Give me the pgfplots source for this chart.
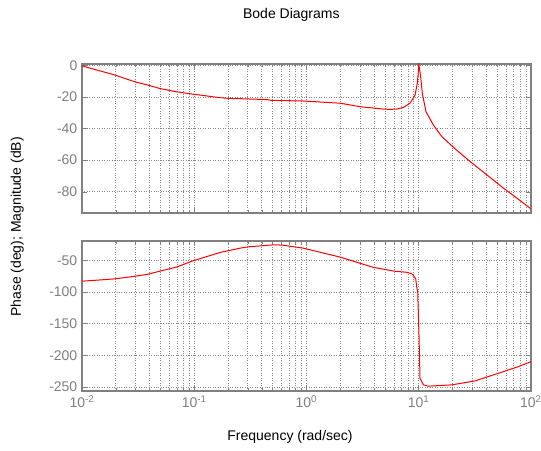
\documentclass[border=0pt]{standalone}
\usepackage{fontspec}
\setmainfont{Liberation Sans}
\usepackage{pgfplots}
\pgfplotsset{compat=1.18}

\definecolor{axgray}{RGB}{128,128,128}
\definecolor{gridgray}{RGB}{135,135,135}
\definecolor{curvered}{RGB}{255,0,0}

\begin{document}
\begin{tikzpicture}
\useasboundingbox[fill=white] (0,0) rectangle (405.75pt,337.5pt);

% Magnitude
\begin{axis}[
  scale only axis,
  width=336.75pt, height=111.75pt,
  at={(61.5pt,177.75pt)}, anchor=south west,
  xmode=log, xmin=0.01, xmax=100,
  ymin=-93.4, ymax=0.8,
  axis line style={axgray, line width=1.2pt},
  tick style={axgray, line width=0.4pt},
  major tick length=4pt, minor tick length=2pt,
  tick align=inside,
  xtick={0.01,0.1,1,10,100},
  minor xtick={0.02,0.03,0.04,0.05,0.06,0.07,0.08,0.09,
               0.2,0.3,0.4,0.5,0.6,0.7,0.8,0.9,
               2,3,4,5,6,7,8,9,20,30,40,50,60,70,80,90},
  xmajorgrids, xminorgrids, ymajorgrids,
  major grid style={gridgray, line width=0.5pt, dash pattern=on 0.75pt off 1.1pt},
  minor grid style={gridgray, line width=0.5pt, dash pattern=on 0.75pt off 1.1pt},
  tick label style={axgray, font=\fontsize{10.5}{12}\selectfont},
  xticklabels={},
  ytick={-80,-60,-40,-20,0},
  yticklabels={-80,-60,-40,-20,0},
]
\addplot[curvered, line width=0.75pt, mark=none] coordinates {
  (0.01,-0.4) (0.0197,-6.2) (0.0296,-10.5) (0.0389,-12.6) (0.0495,-14.7)
  (0.0698,-16.8) (0.0982,-18.3) (0.170,-20.5) (0.209,-21.0) (0.247,-21.1)
  (0.442,-21.7) (0.49,-22.2) (0.938,-22.6) (2.0,-24.0) (3.0,-26.2)
  (4.83,-27.7) (5.55,-27.9) (6.37,-27.7) (7.28,-26.7) (8.36,-24.0)
  (9.27,-18.9) (9.70,-11.5) (9.89,-5.0) (10.02,0.5) (10.2,-3.0)
  (10.4,-7.3) (10.76,-17.8) (11.61,-29.4) (13.49,-37.7) (16.0,-45.0)
  (20.3,-51.8) (28.6,-60.8) (40.3,-69.2) (56.6,-77.6) (74.6,-83.9)
  (100,-90.8)
};
\end{axis}

% Phase
\begin{axis}[
  scale only axis,
  width=336.75pt, height=112.5pt,
  at={(61.5pt,44.25pt)}, anchor=south west,
  xmode=log, xmin=0.01, xmax=100,
  ymin=-256.3, ymax=-19.4,
  axis line style={axgray, line width=1.2pt},
  tick style={axgray, line width=0.4pt},
  major tick length=4pt, minor tick length=2pt,
  tick align=inside,
  xtick={0.01,0.1,1,10,100},
  minor xtick={0.02,0.03,0.04,0.05,0.06,0.07,0.08,0.09,
               0.2,0.3,0.4,0.5,0.6,0.7,0.8,0.9,
               2,3,4,5,6,7,8,9,20,30,40,50,60,70,80,90},
  xmajorgrids, xminorgrids, ymajorgrids,
  major grid style={gridgray, line width=0.5pt, dash pattern=on 0.75pt off 1.1pt},
  minor grid style={gridgray, line width=0.5pt, dash pattern=on 0.75pt off 1.1pt},
  tick label style={axgray, font=\fontsize{10.5}{12}\selectfont},
  xticklabels={10\textsuperscript{-2},10\textsuperscript{-1},10\textsuperscript{0},10\textsuperscript{1},10\textsuperscript{2}},
  ytick={-250,-200,-150,-100,-50},
  yticklabels={-250,-200,-150,-100,-50},
]
\addplot[curvered, line width=0.75pt, mark=none] coordinates {
  (0.01,-82.9) (0.0197,-79.2) (0.0296,-75.1) (0.0389,-71.8) (0.0495,-67.0)
  (0.0698,-60.5) (0.0982,-50.5) (0.170,-37.5) (0.256,-30.7) (0.303,-28.6)
  (0.506,-25.5) (0.601,-25.8) (0.938,-30.7) (1.99,-44.8) (3.94,-61.0)
  (6.14,-67.2) (7.82,-68.8) (8.65,-71.0) (8.95,-73.5) (9.40,-79.3)
  (9.59,-91.9) (9.79,-100) (10.07,-173.5) (10.26,-236) (11.0,-246.6)
  (12.16,-248.7) (19.7,-246.6) (31.7,-240.4) (51.2,-228.3) (77.1,-217.8)
  (100,-210)
};
\end{axis}

\node[font=\fontsize{10.5}{12}\selectfont] at (218.5pt,326.25pt) {Bode Diagrams};
\node[font=\fontsize{10.5}{12}\selectfont] at (217.5pt,9.5pt) {Frequency (rad/sec)};
\node[font=\fontsize{10.5}{12}\selectfont, rotate=90] at (13pt,167.25pt) {Phase (deg); Magnitude (dB)};
\end{tikzpicture}
\end{document}
